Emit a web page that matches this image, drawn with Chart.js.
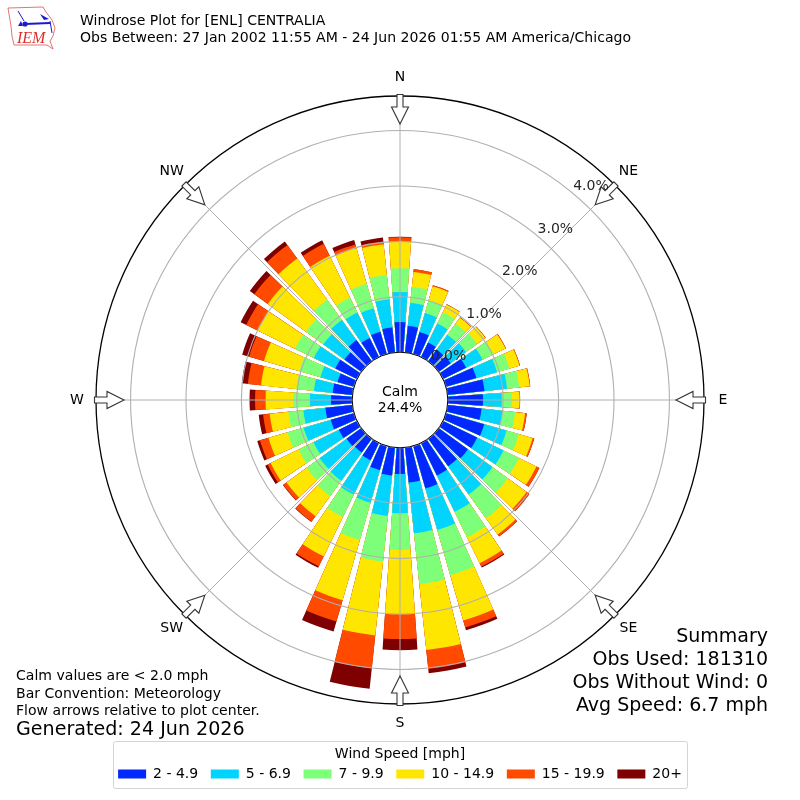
<!DOCTYPE html>
<html>
<head>
<meta charset="utf-8">
<title>Windrose Plot</title>
<script src="https://cdn.jsdelivr.net/npm/chart.js@4"></script>
<style>
  html, body { margin: 0; padding: 0; background: #fff; }
  canvas { display: block; }
</style>
</head>
<body>
<canvas id="rose" width="800" height="800"></canvas>
<script>
// percent of observations per 10 degree direction, one list per speed bin
const directions = [0,10,20,30,40,50,60,70,80,90,100,110,120,130,140,150,160,170,180,190,200,210,220,230,240,250,260,270,280,290,300,310,320,330,340,350];
const speed2to5 = [.545,.482,.412,.292,.262,.269,.464,.570,.671,.635,.617,.718,.686,.652,.617,.653,.798,.635,.473,.509,.455,.347,.310,.329,.365,.437,.491,.383,.359,.310,.437,.377,.473,.383,.419,.455];
const speed5to7 = [.54,.42,.36,.38,.33,.34,.33,.39,.41,.34,.38,.42,.53,.55,.63,.73,.78,.92,.71,.73,.61,.69,.63,.60,.51,.51,.40,.38,.34,.32,.43,.47,.45,.51,.44,.51];
const speed7to10 = [.43,.29,.24,.23,.25,.25,.22,.23,.22,.18,.23,.23,.31,.34,.53,.51,.85,.92,.66,.83,.70,.45,.34,.29,.30,.30,.27,.30,.32,.40,.38,.39,.45,.30,.46,.44];
const speed10to15 = [.48,.27,.26,.15,.13,.18,.24,.19,.19,.14,.18,.26,.35,.42,.36,.52,.85,1.20,1.16,1.34,1.13,.79,.45,.45,.56,.36,.34,.50,.64,.66,.75,.85,.92,.84,.67,.56];
const speed15to20 = [.08,.05,.02,.01,.01,.01,.01,.01,.01,.01,.03,.03,.06,.06,.04,.07,.13,.34,.45,.60,.40,.20,.12,.07,.06,.16,.12,.19,.24,.28,.23,.30,.30,.24,.07,.05];
const speed20up = [.01,0,0,0,0,0,0,0,0,0,0,0,0,.004,.005,.02,.05,.08,.20,.37,.19,.03,.01,.01,.05,.05,.08,.10,.11,.13,.11,.10,.08,.07,.08,.07];

const speedLabels = ['2 - 4.9', '5 - 6.9', '7 - 9.9', '10 - 14.9', '15 - 19.9', '20+'];
const speedColors = ['#0028ff', '#00d4ff', '#7dff7a', '#ffe600', '#ff4a00', '#7f0000'];
const speedSeries = [speed2to5, speed5to7, speed7to10, speed10to15, speed15to20, speed20up];

const radialTicks = [0, 1, 2, 3, 4];
const compass = ['N', 'NE', 'E', 'SE', 'S', 'SW', 'W', 'NW'];
const titleLines = ['Windrose Plot for [ENL] CENTRALIA', 'Obs Between: 27 Jan 2002 11:55 AM - 24 Jun 2026 01:55 AM America/Chicago'];
const summaryLines = ['Summary', 'Obs Used: 181310', 'Obs Without Wind: 0', 'Avg Speed: 6.7 mph'];
const noteLines = ['Calm values are < 2.0 mph', 'Bar Convention: Meteorology', 'Flow arrows relative to plot center.'];

const rMin = -0.863;
const rMax = 4.624;
const FONT = '"DejaVu Sans"';

// bars are stacked, so draw running totals on top of each other, with an empty
// slot after every bar for the gap
const running = directions.map(() => 0);
const datasets = speedSeries.map((series, s) => {
  const data = [];
  series.forEach((v, d) => {
    running[d] += v;
    data.push(running[d], rMin);
  });
  return {
    label: speedLabels[s],
    data: data,
    backgroundColor: speedColors[s],
    borderWidth: 0,
    angle: ctx => ctx.dataIndex % 2 ? 2 : 8
  };
});
const labels = directions.flatMap(d => [String(d), '']);

function bearingPoint(scale, deg, dist) {
  const a = deg * Math.PI / 180;
  return { x: scale.xCenter + dist * Math.sin(a), y: scale.yCenter - dist * Math.cos(a) };
}

function drawArrow(c, scale, deg) {
  c.save();
  c.translate(scale.xCenter, scale.yCenter);
  c.rotate(deg * Math.PI / 180);
  c.beginPath();
  c.moveTo(0, -276);
  c.lineTo(8.5, -293);
  c.lineTo(3, -293);
  c.lineTo(3, -305.5);
  c.lineTo(-3, -305.5);
  c.lineTo(-3, -293);
  c.lineTo(-8.5, -293);
  c.closePath();
  c.fillStyle = '#fff';
  c.fill();
  c.strokeStyle = '#333';
  c.lineWidth = 1.1;
  c.stroke();
  c.restore();
}

function drawLogo(c) {
  c.save();
  c.strokeStyle = '#d9534f';
  c.lineWidth = 0.8;
  c.beginPath();
  c.moveTo(8, 8);
  c.lineTo(43, 7);
  c.lineTo(46, 12);
  c.lineTo(52, 20);
  c.lineTo(55, 28);
  c.lineTo(53, 36);
  c.lineTo(50, 41);
  c.lineTo(53, 49);
  c.lineTo(47, 45);
  c.lineTo(14, 45);
  c.lineTo(12, 36);
  c.lineTo(11, 26);
  c.closePath();
  c.stroke();
  c.strokeStyle = '#1a1ad0';
  c.fillStyle = '#1a1ad0';
  c.lineWidth = 2;
  c.beginPath();
  c.moveTo(25, 24);
  c.lineTo(50, 23);
  c.stroke();
  c.lineWidth = 1;
  c.beginPath();
  c.moveTo(18, 11);
  c.lineTo(21, 16);
  c.lineTo(24, 21);
  c.moveTo(50, 21);
  c.lineTo(52, 33);
  c.stroke();
  c.beginPath();
  c.arc(25, 24, 2.6, 0, 2 * Math.PI);
  c.fill();
  c.beginPath();
  c.moveTo(18, 26);
  c.lineTo(21, 21);
  c.lineTo(23, 26);
  c.closePath();
  c.fill();
  c.beginPath();
  c.moveTo(40, 14);
  c.lineTo(49, 19);
  c.lineTo(44, 20);
  c.closePath();
  c.fill();
  c.fillStyle = '#d9302c';
  c.font = 'italic 16px "Liberation Serif"';
  c.textAlign = 'left';
  c.textBaseline = 'alphabetic';
  c.fillText('IEM', 17, 43);
  c.restore();
}

const windroseDecor = {
  id: 'windroseDecor',
  beforeDraw(chart) {
    const c = chart.ctx;
    c.save();
    c.fillStyle = '#fff';
    c.fillRect(0, 0, chart.width, chart.height);
    c.strokeStyle = '#d4d4d4';
    c.lineWidth = 1;
    c.beginPath();
    c.roundRect(113.5, 741.5, 574, 47, 2);
    c.stroke();
    c.restore();
  },
  afterDatasetsDraw(chart) {
    const c = chart.ctx;
    const scale = chart.scales.r;
    c.save();
    c.strokeStyle = '#b0b0b0';
    c.lineWidth = 1;
    compass.forEach((name, i) => {
      const p = bearingPoint(scale, i * 45, scale.drawingArea);
      c.beginPath();
      c.moveTo(scale.xCenter, scale.yCenter);
      c.lineTo(p.x, p.y);
      c.stroke();
    });
    c.restore();
  },
  afterDraw(chart) {
    const c = chart.ctx;
    const scale = chart.scales.r;
    const inner = scale.getDistanceFromCenterForValue(0);
    c.save();

    // calm hole
    c.fillStyle = '#fff';
    c.strokeStyle = '#000';
    c.lineWidth = 1;
    c.beginPath();
    c.arc(scale.xCenter, scale.yCenter, inner, 0, 2 * Math.PI);
    c.fill();
    c.stroke();

    compass.forEach((name, i) => drawArrow(c, scale, i * 45));

    c.fillStyle = '#000';
    c.font = '14px ' + FONT;
    c.textAlign = 'center';
    c.textBaseline = 'middle';
    c.fillText('Calm', scale.xCenter, scale.yCenter - 8);
    c.fillText('24.4%', scale.xCenter, scale.yCenter + 8.5);

    // direction names
    compass.forEach((name, i) => {
      const p = bearingPoint(scale, i * 45, 323);
      c.fillText(name, p.x, p.y);
    });

    // percent labels run along a single bearing
    c.fillStyle = '#262626';
    c.textAlign = 'left';
    c.textBaseline = 'bottom';
    radialTicks.forEach(v => {
      const p = bearingPoint(scale, 40, scale.getDistanceFromCenterForValue(v));
      c.fillText(v.toFixed(1) + '%', p.x, p.y);
    });

    c.fillStyle = '#000';
    c.textBaseline = 'middle';
    c.font = '14.05px ' + FONT;
    titleLines.forEach((t, i) => c.fillText(t, 80, 21 + i * 17));
    noteLines.forEach((t, i) => c.fillText(t, 16, 676.5 + i * 17.5));
    c.font = '19.1px ' + FONT;
    c.fillText('Generated: 24 Jun 2026', 16, 730.5);
    c.font = '19px ' + FONT;
    c.textAlign = 'right';
    summaryLines.forEach((t, i) => c.fillText(t, 768, 637.5 + i * 23));
    c.restore();

    drawLogo(c);
  }
};

new Chart(document.getElementById('rose'), {
  type: 'polarArea',
  data: { labels: labels, datasets: datasets },
  plugins: [windroseDecor],
  options: {
    responsive: false,
    animation: false,
    font: { family: FONT },
    layout: { padding: { top: 96, bottom: 9 } },
    scales: {
      r: {
        min: rMin,
        max: rMax,
        startAngle: -4,
        afterBuildTicks: axis => {
          axis.ticks = radialTicks.concat([rMax]).map(v => ({ value: v }));
        },
        ticks: { display: false },
        pointLabels: { display: false },
        angleLines: { display: false },
        grid: {
          z: 1,
          circular: true,
          color: ctx => ctx.tick && ctx.tick.value === rMax ? '#000' : '#b0b0b0',
          lineWidth: ctx => ctx.tick && ctx.tick.value === rMax ? 1.3 : 1.1
        }
      }
    },
    plugins: {
      tooltip: { enabled: false },
      legend: {
        position: 'bottom',
        title: {
          display: true,
          text: 'Wind Speed [mph]',
          color: '#000',
          font: { family: FONT, size: 14 },
          padding: { top: 41.5, bottom: -9.3 }
        },
        labels: {
          boxWidth: 28,
          boxHeight: 9,
          padding: 12.6,
          color: '#000',
          font: { family: FONT, size: 14 },
          generateLabels: chart => chart.data.datasets.map((ds, i) => ({
            text: ds.label,
            fillStyle: ds.backgroundColor,
            strokeStyle: ds.backgroundColor,
            lineWidth: 0,
            fontColor: '#000',
            hidden: false,
            datasetIndex: i
          }))
        }
      }
    }
  }
});
</script>
</body>
</html>
